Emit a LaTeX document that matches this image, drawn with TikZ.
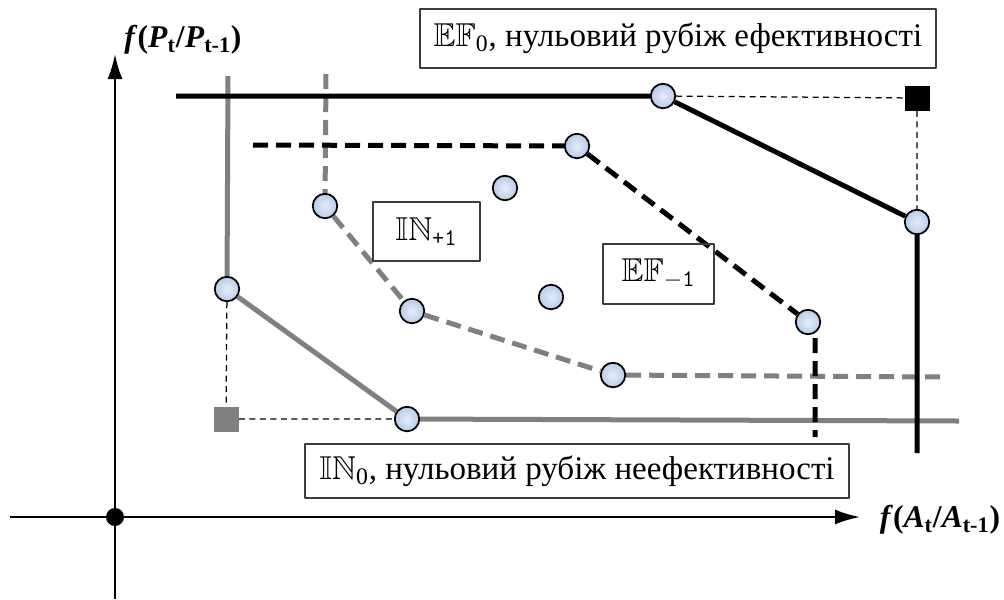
\documentclass[tikz,border=0pt]{standalone}
\usepackage{fix-cm}
\usepackage{amssymb}
\usepackage{fontspec}
\setmainfont{Liberation Serif}
\usetikzlibrary{arrows.meta}
\definecolor{ptin}{RGB}{228,236,249}
\definecolor{ptout}{RGB}{186,203,233}
\definecolor{boxline}{RGB}{60,60,60}
\definecolor{frgray}{RGB}{128,128,128}
\newcommand{\subsz}[1]{\mbox{\fontsize{13.5}{14}\selectfont #1}}
\tikzset{
	pt/.style={circle,draw=black,line width=0.35mm,inner sep=0pt,minimum size=4.9mm,inner color=ptin,outer color=ptout},
	sq/.style={rectangle,inner sep=0pt,minimum size=5mm},
	lbl/.style={draw=boxline,line width=0.25mm,inner sep=0pt,font=\fontsize{18.8}{22}\selectfont},
	frline/.style={line width=1mm},
	frdash/.style={line width=1mm,dash pattern=on 3mm off 1.6mm},
	thin dash/.style={line width=0.25mm,dash pattern=on 1.2mm off 0.9mm}
}
\begin{document}
\begin{tikzpicture}[x=0.2mm,y=-0.2mm,>={Latex[length=5mm,width=3mm]},line join=round]
	\useasboundingbox (0,0) rectangle (1004,599);
	% axes
	\path (10,517) coordinate (Xs) (860,517) coordinate (Xe)
		(115,599) coordinate (Ys) (115,54) coordinate (Ye)
		(115,517) coordinate (O);
	\draw[->,line width=0.45mm] (Xs)--(Xe);
	\draw[->,line width=0.45mm] (Ys)--(Ye);
	\fill (O) circle(1.8mm);
	\node[font=\fontsize{18}{21}\selectfont\bfseries] (xl) at (940,520) {\textit{f}(\textit{A}\textsubscript{t}/\textit{A}\textsubscript{t-1})};
	\node[font=\fontsize{18}{21}\selectfont\bfseries] (yl) at (183,40) {\textit{f}(\textit{P}\textsubscript{t}/\textit{P}\textsubscript{t-1})};
	% points
	\foreach \n/\x/\y in {E1/663/96,E2/917/222,D1/577/146,D2/808/322,I1/227/289,I2/407/419,
		N1/325/206,N2/412/311,N3/613/375,M1/505/188,M2/551/297}
		{\node[pt] (\n) at (\x,\y) {};}
	\node[sq,fill=black] (SE) at (917,98) {};
	\node[sq,fill=frgray] (SI) at (226,419) {};
	% free ends
	\path (176,96) coordinate (Es) (917,453) coordinate (Ee)
		(253,145) coordinate (Ds) (815,338) coordinate (Dt) (815,437) coordinate (De)
		(228,76) coordinate (Is) (959,421) coordinate (Ie)
		(326,74) coordinate (Ns) (943,377) coordinate (Ne);
	% frontiers
	\draw[frline,frgray] (Is)--(I1) (I1)--(I2) (I2)--(Ie);
	\draw[frdash,frgray] (Ns)--(N1) (N1)--(N2) (N2)--(N3) (N3)--(Ne);
	\draw[frline] (Es)--(E1) (E1)--(E2) (E2)--(Ee);
	\draw[frdash] (Ds)--(D1) (D1)--(D2) (Dt)--(De);
	\draw[thin dash] (E1)--(SE) (SE)--(E2) (I1)--(SI) (SI)--(I2); % projections
	% labels
	\node[lbl,fill=white,minimum width=103.2mm,minimum height=11.8mm] (EF0) at (678,38.5) {$\mathbb{EF}_{\subsz{0}}$, нульовий рубіж ефективності};
	\node[lbl,fill=white,minimum width=108.8mm,minimum height=10.8mm] (IN0) at (577,471) {$\mathbb{IN}_{\subsz{0}}$, нульовий рубіж неефективності};
	\node[lbl,minimum width=21.4mm,minimum height=11.8mm] (IN1) at (426.5,231.5) {$\mathbb{IN}_{\subsz{\ttfamily +1}}$};
	\node[lbl,minimum width=22.2mm,minimum height=12mm] (EF1) at (658.5,274) {$\mathbb{EF}_{\subsz{$-$\ttfamily 1}}$};
\end{tikzpicture}
\end{document}
